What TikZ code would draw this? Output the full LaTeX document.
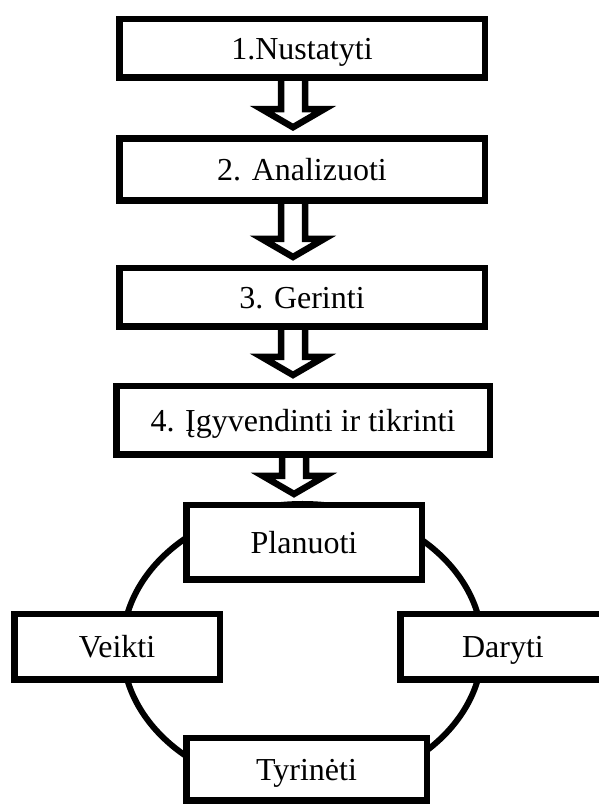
\documentclass[tikz,border=0pt]{standalone}
\usepackage{fontspec}
\setmainfont{Liberation Serif}
\usetikzlibrary{calc, backgrounds}

% hollow block arrow from the bottom of one box down to the next one
\newcommand{\downblock}[2]{%
  \draw[blockarrow] let \p1=($(#1.south)+(-9,0)$), \p2=($(#2.north)+(0,8)$) in
    (\x1-12,\y1) -- (\x1-12,\y2+18) -- (\x1-31,\y2+18) -- (\x1,\y2)
    -- (\x1+31,\y2+18) -- (\x1+12,\y2+18) -- (\x1+12,\y1);}

\begin{document}
\begin{tikzpicture}[
    x=1pt, y=1pt,
    line width=6.5pt,
    box/.style={draw, fill=white, rectangle, inner sep=0pt,
      font=\fontsize{32}{38}\selectfont, text height=22pt, text depth=0pt},
    step box/.style={box, minimum width=365.5, minimum height=58.5},
    blockarrow/.style={draw, line join=miter},
    cycleline/.style={draw, line width=6pt}
  ]
  \useasboundingbox (0,0) rectangle (599,806);

  % the four steps
  \node[step box] (nustatyti) at (302,757.5) {1.Nustatyti};
  \node[step box, minimum height=62] (analizuoti) at (302,636.5) {2. Analizuoti};
  \node[step box] (gerinti) at (302,508.5) {3. Gerinti};
  \node[box, minimum width=373.5, minimum height=68.5] (igyvendinti) at (303,385.5)
    {4. Įgyvendinti ir tikrinti};

  % the cycle
  \node[box, minimum width=235.5, minimum height=74.5] (planuoti) at (304,263.5) {Planuoti};
  \node[box, minimum width=205.5, minimum height=65.5] (veikti) at (117,159) {Veikti};
  \node[box, minimum width=205.5, minimum height=65.5] (daryti) at (503,159) {Daryti};
  \node[box, minimum width=240.5, minimum height=62.5] (tyrineti) at (306.5,36.5) {Tyrinėti};

  \begin{scope}[on background layer]
    \draw[cycleline] ($(planuoti.center |- veikti.center)+(-1.5,0)$)
      ellipse [x radius=180, y radius=143];
  \end{scope}

  \downblock{nustatyti}{analizuoti}
  \downblock{analizuoti}{gerinti}
  \downblock{gerinti}{igyvendinti}
  \downblock{igyvendinti}{planuoti}
\end{tikzpicture}
\end{document}
